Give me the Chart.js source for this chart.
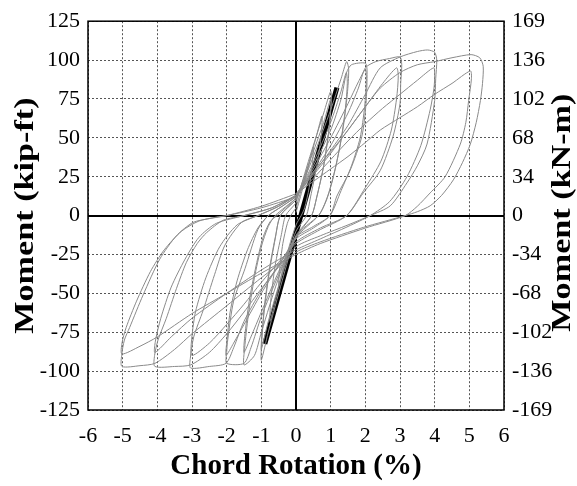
<!DOCTYPE html>
<html>
<head>
<meta charset="utf-8">
<script src="https://cdn.jsdelivr.net/npm/chart.js@4.4.1/dist/chart.umd.min.js"></script>
<style>
    html, body { margin: 0; padding: 0; background: #fff; }
</style>
</head>
<body>
<canvas id="momentChart" width="577" height="486"></canvas>
<script>
// chord rotation (%) vs moment (kip-ft), one array per cycle
const cycle05 = [[0,2],[0.2,18],[0.4,35],[0.5,44],[0.48,35],[0.38,18],[0.25,5],[0.15,0],[0,-6],[-0.2,-20],[-0.4,-36],[-0.5,-45],[-0.48,-36],[-0.38,-18],[-0.25,-5],[-0.15,0],[0,5]];
const cycle075 = [[0,5],[0.3,28],[0.6,52],[0.75,64],[0.73,52],[0.6,32],[0.42,12],[0.3,0],[0,-10],[-0.3,-30],[-0.6,-55],[-0.75,-68],[-0.73,-55],[-0.6,-32],[-0.42,-12],[-0.3,0],[0,8]];
const cycle1a = [[0,8],[0.4,38],[0.8,66],[1.0,80],[1.02,74],[0.95,55],[0.8,32],[0.6,12],[0.45,0],[0,-13],[-0.4,-42],[-0.8,-75],[-1.0,-93],[-1.0,-85],[-0.92,-62],[-0.78,-38],[-0.6,-15],[-0.45,0],[0,10]];
const cycle1b = [[0,10],[0.4,35],[0.8,60],[1.0,75],[1.0,68],[0.92,50],[0.78,30],[0.6,12],[0.45,0],[0,-14],[-0.4,-38],[-0.8,-68],[-1.0,-86],[-0.99,-78],[-0.9,-56],[-0.75,-32],[-0.58,-12],[-0.45,0],[0,10]];
const cycle15a = [[0,10],[0.5,38],[1.0,68],[1.3,88],[1.46,99],[1.52,94],[1.48,78],[1.35,55],[1.15,32],[0.95,15],[0.78,5],[0.65,0],[0,-13],[-0.5,-40],[-1.0,-75],[-1.2,-90],[-1.5,-96],[-1.48,-85],[-1.38,-65],[-1.2,-40],[-1.0,-20],[-0.8,-7],[-0.6,0],[0,11]];
const cycle15b = [[0,11],[0.5,34],[1.0,60],[1.3,80],[1.45,92],[1.48,85],[1.42,68],[1.28,46],[1.08,25],[0.88,10],[0.65,0],[0,-14],[-0.5,-36],[-1.0,-62],[-1.3,-78],[-1.5,-88],[-1.48,-78],[-1.35,-55],[-1.15,-32],[-0.95,-14],[-0.75,-4],[-0.55,0],[0,11]];
const cycle2a = [[0,11],[0.5,32],[1.0,55],[1.3,75],[1.46,92],[1.6,97],[2.0,98],[2.05,93],[2.02,72],[1.9,51],[1.56,29],[1.18,12.6],[0.98,0],[0.5,-7],[0,-14],[-0.5,-38],[-1.0,-65],[-1.3,-85],[-1.5,-95],[-2.0,-95],[-2.0,-88],[-1.97,-80],[-1.8,-55],[-1.47,-34],[-1.1,-9],[-0.8,0],[-0.4,6],[0,12]];
const cycle2b = [[0,12],[0.5,30],[1.0,50],[1.5,72],[1.8,86],[2.0,94],[2.03,88],[1.98,70],[1.85,50],[1.6,32],[1.3,16],[0.98,0],[0.5,-8],[0,-15],[-0.5,-32],[-1.0,-50],[-1.5,-70],[-1.8,-82],[-2.02,-90],[-2.0,-82],[-1.9,-62],[-1.7,-42],[-1.4,-22],[-1.1,-8],[-0.8,0],[-0.4,6],[0,12]];
const cycle3a = [[0,12],[0.5,28],[1.0,45],[1.5,66],[1.8,82],[2.0,95],[2.3,99],[2.7,101],[3.0,102],[3.05,97],[3.02,85],[3.0,72],[2.8,51],[2.43,29],[1.94,14.6],[1.46,0],[0.7,-8],[0,-17],[-0.5,-32],[-1.0,-48],[-1.5,-68],[-1.8,-85],[-2.02,-95],[-2.5,-97],[-3.04,-98],[-3.05,-92],[-2.95,-78],[-2.68,-61],[-2.35,-38],[-2.05,-19],[-1.57,-4.4],[-1.1,0],[-0.5,6],[0,13]];
const cycle3b = [[0,13],[0.5,26],[1.0,40],[1.5,55],[2.0,70],[2.5,85],[2.9,95],[2.95,90],[2.9,75],[2.75,55],[2.45,35],[2.0,18],[1.46,0],[0.7,-9],[0,-18],[-0.5,-30],[-1.0,-43],[-1.5,-57],[-2.0,-70],[-2.5,-82],[-3.0,-90],[-3.02,-82],[-2.9,-62],[-2.6,-40],[-2.2,-20],[-1.7,-6],[-1.1,0],[-0.5,6],[0,13]];
const cycle4a = [[0,13],[0.5,27],[1.0,42],[1.5,58],[2.0,78],[2.43,95],[3.0,102],[3.5,105.5],[3.8,106.5],[4.0,105],[4.06,100],[4.03,88],[4.0,74],[3.78,46],[3.5,32],[3.2,21],[2.72,6.3],[2.14,0],[1.5,-6],[0.7,-13],[0,-20],[-0.5,-33],[-1.0,-47],[-1.5,-62],[-2.0,-76],[-2.5,-88],[-3.04,-96],[-3.5,-97],[-4.07,-97],[-4.08,-90],[-3.98,-80],[-3.74,-66],[-3.45,-47],[-3.16,-30],[-2.85,-18],[-2.58,-11],[-2.1,-3],[-1.5,0],[-0.7,5],[0,13]];
const cycle4b = [[0,13],[0.5,24],[1.0,36],[1.5,48],[2.0,59],[2.5,69],[3.0,78],[3.5,87],[3.97,95],[4.0,90],[3.98,82],[3.87,68],[3.6,45],[3.2,25],[2.7,9],[2.14,0],[1.5,-7],[0.7,-15],[0,-22],[-1.0,-35],[-2.0,-50],[-3.0,-66],[-3.6,-78],[-4.07,-88],[-4.05,-80],[-3.9,-66],[-3.6,-46],[-3.2,-28],[-2.8,-14],[-2.3,-5],[-1.5,0],[-0.7,5],[0,13]];
const cycle5a = [[0,14],[0.5,28],[1.0,41],[1.5,55],[2.0,70],[2.43,82],[3.0,92],[3.5,97],[4.0,99],[4.5,101.5],[5.05,103.5],[5.3,101.5],[5.4,96],[5.38,85],[5.32,74],[5.2,60],[5.03,46],[4.8,34],[4.54,23],[4.2,13],[3.87,6.3],[3.5,2.5],[3.15,0],[1.94,-7.6],[0.69,-17],[0,-23.5],[-1.0,-40],[-2.0,-58],[-3.0,-76],[-3.5,-86],[-4.07,-95],[-4.5,-96.5],[-5.02,-97],[-5.03,-90],[-4.95,-80],[-4.8,-72],[-4.41,-51],[-3.93,-28],[-3.45,-13],[-2.97,-4.4],[-2.49,-1.9],[-2.0,0],[-1.0,6],[0,14]];
const cycle5b = [[0,14],[0.5,22],[1.0,30],[1.5,38],[2.0,47],[2.43,55],[3.0,63],[3.5,70],[4.0,78],[4.5,85],[5.03,93],[5.06,88],[4.98,74],[4.9,60],[4.74,46],[4.3,25],[3.87,14.6],[3.5,6],[3.15,0],[2.0,-8],[0.7,-18],[0,-25],[-1.0,-37],[-2.0,-50],[-3.0,-63],[-4.0,-78],[-4.5,-84],[-5.02,-89],[-5.02,-82],[-4.9,-72],[-4.6,-55],[-4.2,-36],[-3.8,-22],[-3.3,-10],[-2.8,-3.5],[-2.3,-1],[-2.0,0],[-1.0,5],[0,12]];

// effective stiffness line
const stiffLine = [[-0.9,-82.5],[1.18,82.3]];

// tick labels
const xTicks = [-6,-5,-4,-3,-2,-1,0,1,2,3,4,5,6];
const kipTicks = [-125,-100,-75,-50,-25,0,25,50,75,100,125];
const kNmTicks = [-169,-136,-102,-68,-34,0,34,68,102,136,169];

const cycles = [cycle05, cycle075, cycle1a, cycle1b, cycle15a, cycle15b, cycle2a, cycle2b, cycle3a, cycle3b, cycle4a, cycle4b, cycle5a, cycle5b];

const serif = '"Liberation Serif", "Times New Roman", serif';

function toPoints(arr) {
    return arr.map(p => ({x: p[0], y: p[1]}));
}

const datasets = cycles.map(c => ({
    data: toPoints(c),
    showLine: true,
    borderColor: '#8a8a8a',
    borderWidth: 1,
    pointRadius: 0,
    tension: 0.25,
    yAxisID: 'y'
}));

datasets.push({
    data: toPoints(stiffLine),
    showLine: true,
    borderColor: '#000',
    borderWidth: 5,
    pointRadius: 0,
    yAxisID: 'y'
});

// vertical text, stretched a little along its length like the original
function sideTitle(ctx, text, x, y) {
    ctx.save();
    ctx.translate(x, y);
    ctx.rotate(-Math.PI / 2);
    ctx.scale(1.22, 1);
    ctx.fillText(text, 0, 0);
    ctx.restore();
}

// frame on all four sides + both side titles
const framePlugin = {
    id: 'frame',
    afterDraw(chart) {
        const {ctx, chartArea: a} = chart;
        const midY = (a.top + a.bottom) / 2;
        ctx.save();
        ctx.strokeStyle = '#000';
        ctx.lineWidth = 1.5;
        ctx.strokeRect(a.left, a.top, a.right - a.left, a.bottom - a.top);
        ctx.font = 'bold 28px ' + serif;
        ctx.fillStyle = '#000';
        ctx.textAlign = 'center';
        ctx.textBaseline = 'middle';
        sideTitle(ctx, 'Moment (kip-ft)', 26, midY);
        sideTitle(ctx, 'Moment (kN-m)', 563, midY - 3);
        ctx.restore();
    }
};

const zeroColor = c => c.tick && c.tick.value === 0 ? '#000' : '#555';
const zeroWidth = c => c.tick && c.tick.value === 0 ? 2 : 1;
const zeroDash = c => c.tick && c.tick.value === 0 ? [] : [2, 2];

new Chart(document.getElementById('momentChart'), {
    type: 'scatter',
    data: { datasets: datasets },
    plugins: [framePlugin],
    options: {
        responsive: false,
        animation: false,
        layout: { padding: { top: 16, left: 0, right: 0, bottom: 0 } },
        plugins: {
            legend: { display: false },
            tooltip: { enabled: false }
        },
        scales: {
            x: {
                type: 'linear',
                min: -6,
                max: 6,
                afterBuildTicks: s => { s.ticks = xTicks.map(v => ({value: v})); },
                afterFit: s => { s.height = 76; },
                grid: { color: zeroColor, lineWidth: zeroWidth, drawTicks: false },
                border: { display: false, dash: zeroDash },
                ticks: { padding: 13, color: '#000', font: { family: serif, size: 22 } },
                title: {
                    display: true,
                    text: 'Chord Rotation (%)',
                    color: '#000',
                    padding: { top: 0, bottom: 2 },
                    font: { family: serif, size: 29, weight: 'bold' }
                }
            },
            y: {
                type: 'linear',
                position: 'left',
                min: -125,
                max: 125,
                afterBuildTicks: s => { s.ticks = kipTicks.map(v => ({value: v})); },
                afterFit: s => { s.width = 88; },
                grid: { color: zeroColor, lineWidth: zeroWidth, drawTicks: false },
                border: { display: false, dash: zeroDash },
                ticks: { padding: 8, color: '#000', font: { family: serif, size: 22 } }
            },
            y2: {
                type: 'linear',
                position: 'right',
                min: -125,
                max: 125,
                afterBuildTicks: s => { s.ticks = kipTicks.map(v => ({value: v})); },
                afterFit: s => { s.width = 73; },
                grid: { drawOnChartArea: false, drawTicks: false },
                border: { display: false },
                ticks: {
                    padding: 8,
                    color: '#000',
                    font: { family: serif, size: 22 },
                    callback: (v, i) => kNmTicks[i]
                }
            }
        }
    }
});
</script>
</body>
</html>
